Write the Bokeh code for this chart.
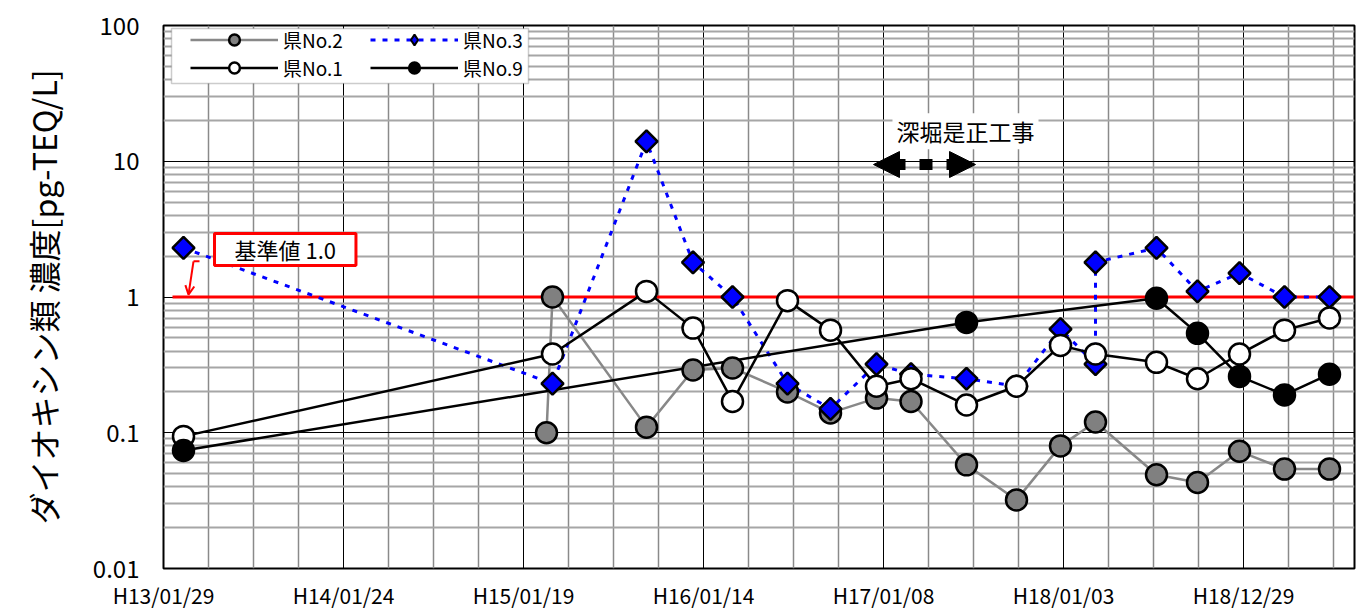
import math
import pandas as pd
from bokeh.plotting import figure
from bokeh.models import (Range1d, FixedTicker, Legend, LegendItem, Label, Arrow,
                          NormalHead, OpenHead, BoxAnnotation, CustomJSTickFormatter)
from bokeh.embed import file_html
from bokeh.resources import INLINE

FONT = "Noto Sans CJK JP"
BASE_DATE = "2001-01-29"

# ---- axis ticks -------------------------------------------------------------
tick_dates = ["2001-01-29", "2002-01-24", "2003-01-19", "2004-01-14",
              "2005-01-08", "2006-01-03", "2006-12-29"]
tick_labels = ["H13/01/29", "H14/01/24", "H15/01/19", "H16/01/14",
               "H17/01/08", "H18/01/03", "H18/12/29"]
y_ticks = [0.01, 0.1, 1, 10, 100]

# ---- series -------------------------------------------------------------------
no2_dates = ["2003-03-06", "2003-03-18", "2003-09-22", "2003-12-24", "2004-03-12",
             "2004-06-30", "2004-09-24", "2004-12-25", "2005-03-04", "2005-06-23",
             "2005-10-01", "2005-12-28", "2006-03-08", "2006-07-08", "2006-09-28",
             "2006-12-21", "2007-03-21", "2007-06-19"]
no2_values = [0.10, 1.0, 0.11, 0.29, 0.30, 0.20, 0.14, 0.18, 0.17, 0.058,
              0.032, 0.080, 0.12, 0.049, 0.043, 0.073, 0.054, 0.054]

no3_dates = ["2001-03-10", "2003-03-18", "2003-09-22", "2003-12-24", "2004-03-12",
             "2004-06-30", "2004-09-24", "2004-12-25", "2005-03-04", "2005-06-23",
             "2005-10-01", "2005-12-28", "2006-03-08", "2006-03-08", "2006-07-08",
             "2006-09-28", "2006-12-21", "2007-03-21", "2007-06-19"]
no3_values = [2.3, 0.23, 14.0, 1.8, 1.0, 0.23, 0.15, 0.32, 0.27, 0.25,
              0.22, 0.58, 0.32, 1.8, 2.3, 1.1, 1.5, 1.0, 1.0]

no1_dates = ["2001-03-10", "2003-03-18", "2003-09-22", "2003-12-24", "2004-03-12",
             "2004-06-30", "2004-09-24", "2004-12-25", "2005-03-04", "2005-06-23",
             "2005-10-01", "2005-12-28", "2006-03-08", "2006-07-08", "2006-09-28",
             "2006-12-21", "2007-03-21", "2007-06-19"]
no1_values = [0.094, 0.38, 1.1, 0.59, 0.17, 0.94, 0.57, 0.22, 0.25, 0.16,
              0.22, 0.44, 0.38, 0.33, 0.25, 0.38, 0.57, 0.70]

no9_dates = ["2001-03-10", "2005-06-23", "2006-07-08", "2006-09-28", "2006-12-21",
             "2007-03-21", "2007-06-19"]
no9_values = [0.074, 0.65, 0.98, 0.54, 0.26, 0.19, 0.27]

standard_value = 1.0


def days(dates):
    base = pd.Timestamp(BASE_DATE)
    return [(pd.Timestamp(d) - base).days for d in dates]


X_MAX = 2382
x_ticks = days(tick_dates)
x_minor = [d for d in range(90, X_MAX, 90) if d not in x_ticks]
y_minor = [m * 10.0 ** e for e in range(-2, 2) for m in range(2, 10)]

p = figure(width=1364, height=612, x_range=Range1d(0, X_MAX),
           y_range=Range1d(0.01, 100), y_axis_type="log",
           output_backend="svg", toolbar_location=None,
           min_border_left=163, min_border_right=10,
           min_border_top=25, min_border_bottom=44,
           background_fill_color="white", border_fill_color="white")

p.outline_line_color = "black"
p.outline_line_width = 2

# x axis
p.xaxis.ticker = FixedTicker(ticks=x_ticks, minor_ticks=x_minor)
p.xaxis.major_label_overrides = {int(k): v for k, v in zip(x_ticks, tick_labels)}
p.xaxis.major_label_text_font = FONT
p.xaxis.major_label_text_font_size = "21px"
p.xaxis.major_label_text_color = "black"
p.xaxis.major_label_standoff = 11
p.xaxis.axis_line_color = None
p.xaxis.major_tick_line_color = None
p.xaxis.minor_tick_line_color = None
p.xaxis.major_tick_out = 0
p.xaxis.major_tick_in = 0
p.xaxis.minor_tick_out = 0

# y axis
p.yaxis.ticker = FixedTicker(ticks=y_ticks, minor_ticks=y_minor)
p.yaxis.formatter = CustomJSTickFormatter(code="return String(tick);")
p.yaxis.major_label_text_font = FONT
p.yaxis.major_label_text_font_size = "24px"
p.yaxis.major_label_text_color = "black"
p.yaxis.major_label_standoff = 24
p.yaxis.axis_line_color = None
p.yaxis.major_tick_in = 8
p.yaxis.major_tick_out = 0
p.yaxis.minor_tick_out = 0
p.yaxis.major_tick_line_color = "black"
p.yaxis.minor_tick_line_color = None
p.yaxis.axis_label = "ダイオキシン類 濃度[pg-TEQ/L]"
p.yaxis.axis_label_text_font = FONT
p.yaxis.axis_label_text_font_size = "32px"
p.yaxis.axis_label_text_font_style = "normal"
p.yaxis.axis_label_text_color = "black"
p.yaxis.axis_label_standoff = 24

# grids
p.xgrid.grid_line_color = "black"
p.xgrid.grid_line_width = 1
p.xgrid.minor_grid_line_color = "#8a8a8a"
p.xgrid.minor_grid_line_width = 1.5
p.ygrid.grid_line_color = "black"
p.ygrid.grid_line_width = 1
p.ygrid.minor_grid_line_color = "#a6a6a6"
p.ygrid.minor_grid_line_width = 1.8

# standard line (1.0)
p.segment(x0=18, y0=standard_value, x1=X_MAX, y1=standard_value,
          line_color="red", line_width=3)

# lines
x2, x3, x1, x9 = days(no2_dates), days(no3_dates), days(no1_dates), days(no9_dates)
l2 = p.line(x2, no2_values, line_color="#888888", line_width=2.5)
l3 = p.line(x3, no3_values, line_color="#0000ff", line_width=3, line_dash="5 7")
l1 = p.line(x1, no1_values, line_color="black", line_width=2.5)
l9 = p.line(x9, no9_values, line_color="black", line_width=2.5)

# markers
m2 = p.scatter(x2, no2_values, marker="circle", size=21, fill_color="#808080",
               line_color="black", line_width=2.5)
# diamond key for the legend (zero size in the plot, hidden under the real markers)
m3_key = p.scatter(x3, no3_values, marker="diamond", size=0, fill_color="#0000ff",
                   line_color="black", line_width=2)
m3 = p.scatter(x3, no3_values, marker="square", angle=math.pi / 4, size=15.5,
               fill_color="#0000ff", line_color="black", line_width=2.5)
m1 = p.scatter(x1, no1_values, marker="circle", size=21, fill_color="white",
               line_color="black", line_width=2.5)
m9 = p.scatter(x9, no9_values, marker="circle", size=21, fill_color="black",
               line_color="black", line_width=2.5)

# legend frame
p.add_layout(BoxAnnotation(left=16, right=730, top=95.0, bottom=37.4,
                           fill_color="white", fill_alpha=1,
                           line_color="#555555", line_width=1.5, level="annotation"))

legend = Legend(items=[LegendItem(label="県No.2", renderers=[l2, m2]),
                       LegendItem(label="県No.3", renderers=[l3, m3_key]),
                       LegendItem(label="県No.1", renderers=[l1, m1]),
                       LegendItem(label="県No.9", renderers=[l9, m9])],
                orientation="horizontal", nrows=2, location=(27, 487),
                padding=0, margin=0, spacing=1, glyph_width=88, glyph_height=27,
                label_standoff=5, label_width=86, label_height=27,
                label_text_font=FONT, label_text_font_size="19px",
                label_text_color="black", background_fill_alpha=0,
                border_line_color=None)
p.add_layout(legend)

# standard value annotation
p.add_layout(Label(x=102, y=2.24, text="基準値 1.0", text_align="left",
                   text_baseline="middle", text_font=FONT, text_font_size="22px",
                   text_color="black",
                   padding=dict(left=20, right=20, top=0, bottom=0),
                   background_fill_color="white", border_line_color="red",
                   border_line_width=3))
p.add_layout(Arrow(x_start=72, y_start=1.83, x_end=60, y_end=1.83,
                   end=None, line_color="red", line_width=2))
p.add_layout(Arrow(x_start=60, y_start=1.83, x_end=50, y_end=1.04,
                   end=OpenHead(size=9, line_color="red", line_width=2),
                   line_color="red", line_width=2))

# construction period annotation
p.add_layout(Label(x=1604, y=16.6, text="深堀是正工事", text_align="center",
                   text_baseline="middle", text_font=FONT, text_font_size="23px",
                   text_color="black", background_fill_color="white",
                   padding=dict(left=4, right=4, top=1, bottom=1)))
p.add_layout(Arrow(x_start=1420, y_start=9.46, x_end=1624, y_end=9.46,
                   start=NormalHead(size=26, fill_color="black", line_color="black"),
                   end=NormalHead(size=26, fill_color="black", line_color="black"),
                   line_color="black", line_width=11, line_dash="13 14",
                   line_dash_offset=8))

open("out.html", "w").write(file_html(p, INLINE))
